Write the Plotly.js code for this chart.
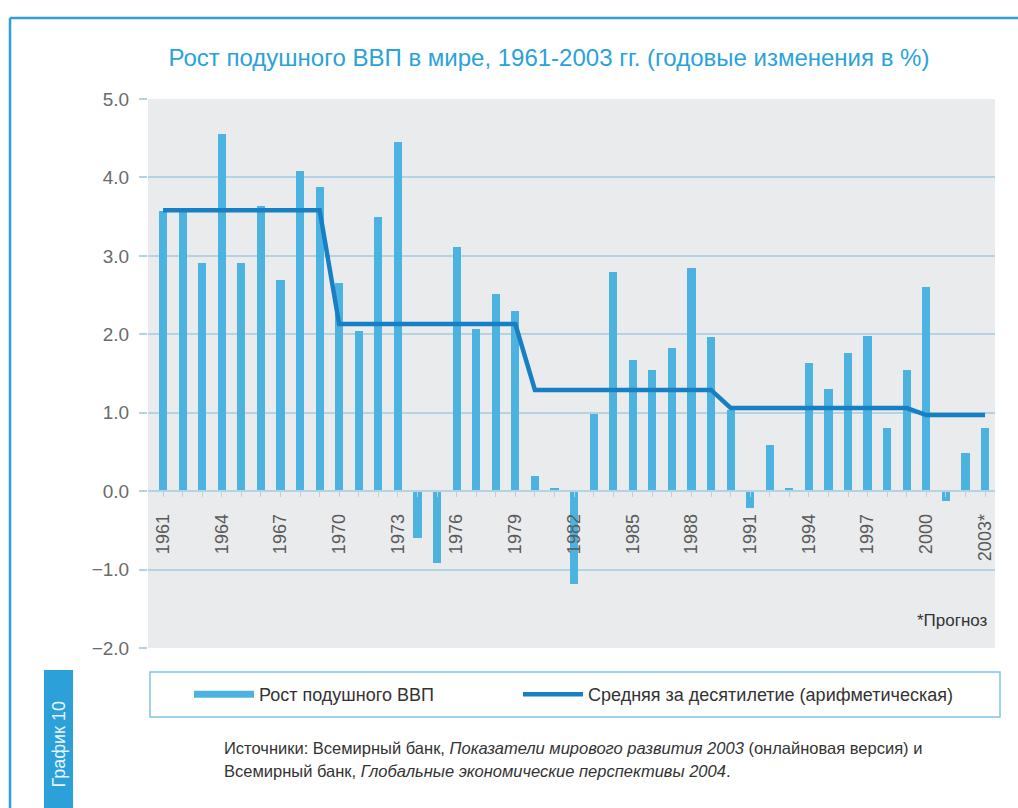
<!DOCTYPE html>
<html>
<head>
<meta charset="utf-8">
<script src="https://cdn.plot.ly/plotly-3.0.1.min.js"></script>
<style>html,body{margin:0;padding:0;background:#fff;}#chart{width:1018px;height:808px;}</style>
</head>
<body>
<div id="chart"></div>
<script>
const years = [1961,1962,1963,1964,1965,1966,1967,1968,1969,1970,
  1971,1972,1973,1974,1975,1976,1977,1978,1979,1980,
  1981,1982,1983,1984,1985,1986,1987,1988,1989,1990,
  1991,1992,1993,1994,1995,1996,1997,1998,1999,2000,
  2001,2002,2003];
const growth = [3.57,3.60,2.91,4.56,2.91,3.64,2.69,4.08,3.88,2.66,
  2.04,3.49,4.45,-0.60,-0.92,3.11,2.07,2.52,2.30,0.19,
  0.04,-1.18,0.99,2.80,1.67,1.55,1.82,2.85,1.97,1.03,
  -0.21,0.59,0.04,1.64,1.30,1.76,1.98,0.80,1.55,2.60,
  -0.12,0.49,0.80];
const decadeAvg = [3.58,3.58,3.58,3.58,3.58,3.58,3.58,3.58,3.58,2.13,
  2.13,2.13,2.13,2.13,2.13,2.13,2.13,2.13,2.13,1.29,
  1.29,1.29,1.29,1.29,1.29,1.29,1.29,1.29,1.29,1.06,
  1.06,1.06,1.06,1.06,1.06,1.06,1.06,1.06,1.06,0.97,
  0.97,0.97,0.97];
const tickYears = [1961,1964,1967,1970,1973,1976,1979,1982,1985,1988,1991,1994,1997,2000,2003];
const tickLabels = ['1961','1964','1967','1970','1973','1976','1979','1982','1985','1988','1991','1994','1997','2000','2003*'];
const seriesNames = ['Рост подушного ВВП','Средняя за десятилетие (арифметическая)'];
const titleText = 'Рост подушного ВВП в мире, 1961-2003 гг. (годовые изменения в %)';

const barColor = '#4cb3e1';
const lineColor = '#1780c4';
const frameColor = '#2ba0d9';
const gridColor = '#b3d2e2';
const font = 'Liberation Sans, Arial, sans-serif';

// pixel helpers for annotations/shapes (plot area 148..995 x, 99..648 y)
const L = 148, R = 995, T = 99, B = 648;
const px = v => (v - L) / (R - L);
const py = v => (B - v) / (B - T);

const traces = [
  {type:'scatter', mode:'lines', x:[null], y:[null], name:seriesNames[0], legend:'legend',
   line:{color:barColor, width:7}, hoverinfo:'skip'},
  {type:'bar', x:years, y:growth, name:seriesNames[0], showlegend:false,
   marker:{color:barColor}, width:0.42},
  {type:'scatter', mode:'lines', x:years, y:decadeAvg, name:seriesNames[1], legend:'legend2',
   line:{color:lineColor, width:4.5}}
];

const legendCommon = {orientation:'h', xanchor:'left', yanchor:'middle',
  bgcolor:'rgba(0,0,0,0)', borderwidth:0, itemwidth:60,
  font:{family:font, size:18, color:'#333'}};

const layout = {
  width:1018, height:808,
  margin:{l:L, r:1018-R, t:T, b:808-B, pad:0},
  paper_bgcolor:'#ffffff', plot_bgcolor:'#e9ebed',
  font:{family:font, color:'#555'},
  title:{text:titleText, x:549/1018, xanchor:'center', y:1-58/808, yanchor:'middle', xref:'container', yref:'container',
         font:{family:font, size:24, color:'#2aa2da'}},
  bargap:0,
  xaxis:{range:[1960.23,2003.51], anchor:'free', position:2/7,
         tickvals:tickYears, ticktext:tickLabels, tickangle:-90,
         ticks:'outside', ticklen:5, tickcolor:gridColor, tickwidth:1,
         minor:{dtick:1, tick0:1961, ticks:'outside', ticklen:5, tickcolor:gridColor, showgrid:false},
         showline:true, linecolor:gridColor, linewidth:1.5,
         showgrid:false, zeroline:false, ticklabelstandoff:10,
         tickfont:{family:font, size:18, color:'#5a5a5a'}},
  yaxis:{range:[-2,5], dtick:1, tick0:0, tickformat:'.1f',
         showgrid:true, gridcolor:gridColor, gridwidth:1.5,
         zeroline:true, zerolinecolor:gridColor, zerolinewidth:1.5,
         ticks:'outside', ticklen:8, tickcolor:gridColor, tickwidth:1.5,
         ticklabelstandoff:6,
         tickfont:{family:font, size:19, color:'#6a6a6a'}},
  showlegend:true,
  legend:Object.assign({}, legendCommon, {x:px(189), y:py(694.5)}),
  legend2:Object.assign({}, legendCommon, {x:px(518), y:py(694.5)}),
  shapes:[
    // outer frame
    {type:'line', xref:'paper', yref:'paper', x0:px(10), x1:px(1018), y0:py(18), y1:py(18), line:{color:frameColor, width:2.5}},
    {type:'line', xref:'paper', yref:'paper', x0:px(10), x1:px(10), y0:py(18), y1:py(808), line:{color:frameColor, width:2.5}},
    // legend box
    {type:'rect', xref:'paper', yref:'paper', x0:px(150), x1:px(1000), y0:py(672), y1:py(717), line:{color:'#7cc6ea', width:1.5}, fillcolor:'rgba(0,0,0,0)'},
    // side label box
    {type:'rect', xref:'paper', yref:'paper', x0:px(44), x1:px(73), y0:py(670), y1:py(808), line:{width:0}, fillcolor:frameColor}
  ],
  annotations:[
    {text:'*Прогноз', xref:'paper', yref:'paper', x:px(990), y:py(620), xanchor:'right', yanchor:'middle', showarrow:false,
     font:{family:font, size:17, color:'#333'}},
    {text:'График 10', xref:'paper', yref:'paper', x:px(58.5), y:py(744), textangle:-90, xanchor:'center', yanchor:'middle', showarrow:false,
     font:{family:font, size:18, color:'#e8f5fc'}},
    {text:'Источники: Всемирный банк, <i>Показатели мирового развития 2003</i> (онлайновая версия) и', xref:'paper', yref:'paper',
     x:px(222), y:py(748), xanchor:'left', yanchor:'middle', showarrow:false, align:'left',
     font:{family:font, size:16.5, color:'#333'}},
    {text:'Всемирный банк, <i>Глобальные экономические перспективы 2004</i>.', xref:'paper', yref:'paper',
     x:px(222), y:py(771), xanchor:'left', yanchor:'middle', showarrow:false, align:'left',
     font:{family:font, size:16.5, color:'#333'}}
  ]
};

Plotly.newPlot('chart', traces, layout, {displayModeBar:false, responsive:false});
</script>
</body>
</html>
